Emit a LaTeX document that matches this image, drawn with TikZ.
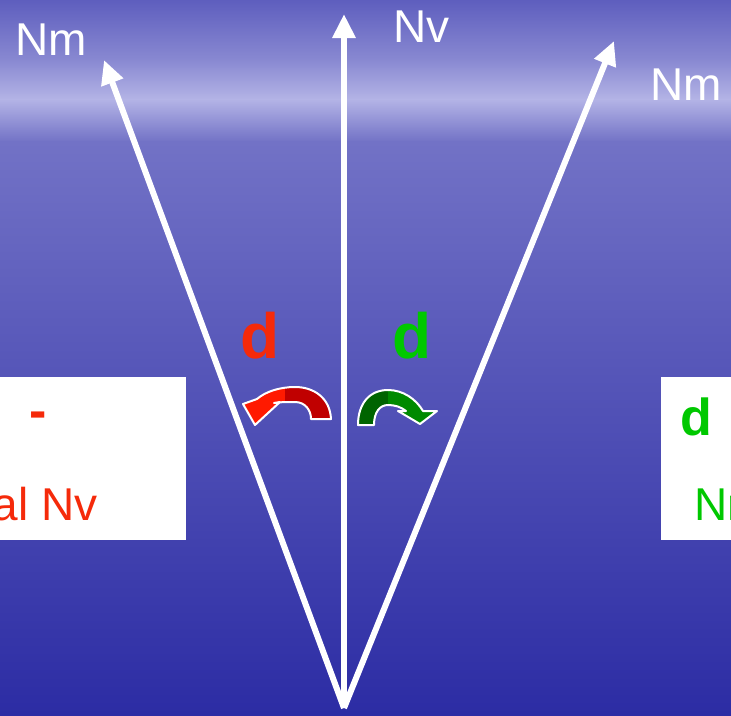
\documentclass[tikz,border=0pt]{standalone}
\usepackage{fontspec}
\setmainfont{Liberation Sans}
\usetikzlibrary{arrows.meta}
\definecolor{bgtop}{HTML}{5E5EBE}
\definecolor{bgmid}{HTML}{8A8AD2}
\definecolor{bgband}{HTML}{B4B4E6}
\definecolor{bglow}{HTML}{7272C6}
\definecolor{bgcore}{HTML}{4444B4}
\definecolor{bgbottom}{HTML}{2C2CA4}
\definecolor{txtred}{HTML}{F52A0A}
\definecolor{txtgreen}{HTML}{00C800}
\definecolor{bendred}{HTML}{FF1A00}
\definecolor{bendreddk}{HTML}{C00000}
\definecolor{bendgreen}{HTML}{008A00}
\definecolor{bendgreendk}{HTML}{006400}

% curved block arrows, in picture pixels
\newcommand{\redbend}{(311,419) -- (331,419) .. controls (330,398) and (314,387) .. (295,387)
  .. controls (279,387) and (265,392) .. (257,399) -- (243,404) -- (255,425) -- (280,402) -- (274,403)
  .. controls (280,402) and (287,402) .. (295,402) .. controls (305,402) and (311,410) .. (311,419) -- cycle}
\newcommand{\greenbend}{(374,425) -- (358,425) .. controls (358,403) and (370,390) .. (388,390)
  .. controls (403,390) and (416,399) .. (423,411) -- (437,411) -- (420,424) -- (398,411) -- (406,411)
  .. controls (401,407) and (395,405) .. (388,405) .. controls (380,405) and (374,412) .. (374,425) -- cycle}

\begin{document}
\begin{tikzpicture}[
  x=1pt, y=-1pt,
  vec/.style={-{Triangle[length=24pt,width=22pt]}, line width=6pt, white},
  lbl/.style={inner sep=0pt, text=white, font=\fontsize{46}{50}\selectfont},
  boxtxt/.style={inner sep=0pt, font=\fontsize{46}{50}\selectfont},
  bold/.style={inner sep=0pt, font=\fontsize{52}{56}\selectfont\bfseries},
  bigd/.style={inner sep=0pt, font=\fontsize{64}{68}\selectfont\bfseries},
  whitebox/.style={fill=white, draw=none},
  rim/.style={draw=white, line width=2pt, line join=round},
]
\useasboundingbox (0,0) rectangle (731,715);
\clip (0,0) rectangle (731,715);

% background
\fill[top color=bgtop, bottom color=bgmid] (0,0) rectangle (731,62);
\fill[top color=bgmid, bottom color=bgband] (0,61) rectangle (731,100);
\fill[top color=bgband, bottom color=bglow] (0,99) rectangle (731,142);
\fill[top color=bglow, middle color=bgcore, bottom color=bgbottom] (0,141) rectangle (731,715);

% side boxes
\fill[whitebox] (0,377) rectangle (186,540);
\fill[whitebox] (661,377) rectangle (731,540);
\node[bold, text=txtred, anchor=north] (minus) at (38,412) {-};
\node[boxtxt, text=txtred, anchor=base east] (nvleft) at (98,520) {al Nv};
\node[bold, text=txtgreen, anchor=base west] (dright) at (680,435) {d};
\node[boxtxt, text=txtgreen, anchor=base west] (nright) at (694,520) {Nr};

% vectors
\coordinate (base) at (344,708);
\coordinate (tipL) at (104,60);
\coordinate (tipV) at (344,14);
\coordinate (tipR) at (614,41);
\draw[vec] (base) -- (tipL);
\draw[vec] (base) -- (tipV);
\draw[vec] (base) -- (tipR);

\node[lbl, anchor=base west] (nmL) at (15,55) {Nm};
\node[lbl, anchor=base west] (nv) at (393,42) {Nv};
\node[lbl, anchor=base west] (nmR) at (650,100) {Nm};

% rotation marks
\node[bigd, text=txtred, anchor=base west] (dred) at (240,358) {d};
\node[bigd, text=txtgreen, anchor=base west] (dgreen) at (392,358) {d};

\fill[bendred] \redbend;
\begin{scope}
  \clip \redbend;
  \fill[bendreddk] (285,380) rectangle (335,430);
\end{scope}
\draw[rim] \redbend;

\fill[bendgreen] \greenbend;
\begin{scope}
  \clip \greenbend;
  \fill[bendgreendk] (350,380) rectangle (388,430);
\end{scope}
\draw[rim] \greenbend;

\end{tikzpicture}
\end{document}
